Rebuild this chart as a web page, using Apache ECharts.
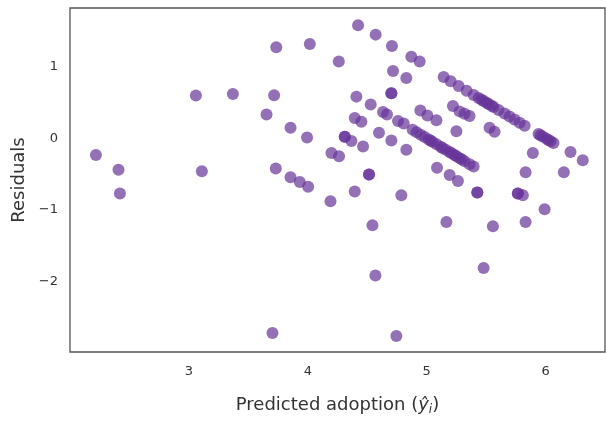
<!DOCTYPE html>
<html><head><meta charset="utf-8">
<script src="https://cdn.jsdelivr.net/npm/echarts@6/dist/echarts.min.js"></script>
<style>html,body{margin:0;padding:0;background:#fff}#c{width:606px;height:421px}</style>
</head><body><div id="c"></div>
<script>
var predicted = [
 2.218,2.408,2.420,3.059,3.109,3.370,3.735,4.017,3.653,3.717,3.731,3.855,3.994,3.855,3.933,4.003,3.703,
 4.261,4.191,4.423,4.571,4.708,4.871,4.941,4.717,4.829,4.409,4.703,4.703,4.529,4.633,4.666,4.395,4.451,
 4.759,4.807,4.947,5.006,5.082,4.599,4.703,4.829,4.311,4.311,4.367,4.465,4.199,4.263,4.515,4.515,4.395,
 4.787,4.544,4.569,4.745,5.221,5.277,5.319,5.361,5.250,5.529,5.571,5.087,5.193,5.263,5.426,5.426,5.767,
 5.767,5.809,5.992,5.166,5.557,5.832,5.479,5.893,5.832,6.154,6.210,6.313,
 4.882,4.916,4.950,4.983,5.017,5.050,5.084,5.118,5.160,5.193,5.235,5.277,5.319,5.361,5.395,
 5.034,5.134,5.210,5.252,5.294,
 5.143,5.202,5.269,5.336,5.395,5.437,5.479,5.521,5.563,5.605,5.655,5.697,5.739,5.782,5.824,5.941,5.975,
 6.008,6.042,6.067,5.462,5.504,5.546,5.958,6.025
];
var residuals = [
 -0.234,-0.440,-0.770,0.598,-0.461,0.619,1.272,1.316,0.334,0.601,-0.422,0.147,0.010,-0.543,-0.609,-0.678,-2.719,
 1.073,-0.880,1.578,1.448,1.289,1.138,1.073,0.939,0.843,0.582,0.629,0.629,0.472,0.367,0.334,0.285,0.230,
 0.243,0.206,0.389,0.320,0.252,0.078,-0.032,-0.161,0.023,0.023,-0.037,-0.114,-0.206,-0.252,-0.505,-0.505,-0.743,
 -0.794,-1.215,-1.916,-2.761,0.450,0.376,0.344,0.312,0.100,0.147,0.092,-0.413,-0.513,-0.596,-0.757,-0.757,-0.770,
 -0.770,-0.794,-0.990,-1.169,-1.228,-1.169,-1.812,-0.206,-0.475,-0.475,-0.193,-0.307,
 0.118,0.084,0.050,0.017,-0.017,-0.050,-0.084,-0.118,-0.160,-0.193,-0.235,-0.277,-0.319,-0.361,-0.395,
 -0.034,-0.134,-0.210,-0.252,-0.294,
 0.857,0.798,0.731,0.664,0.605,0.563,0.521,0.479,0.437,0.395,0.345,0.303,0.261,0.218,0.176,0.059,0.025,
 -0.008,-0.042,-0.067,0.538,0.496,0.454,0.042,-0.025
];
var xTicks = [3,4,5,6];
var yTicks = [-2,-1,0,1];

var data = predicted.map(function(x,i){return [x, residuals[i]];});
function fmt(v){ return v < 0 ? '\u2212' + (-v) : String(v); }
var chart = echarts.init(document.getElementById('c'), null, {renderer:'canvas'});
chart.setOption({
  animation:false,
  backgroundColor:'#fff',
  grid:{left:70,right:1,top:8,bottom:64,show:true,borderColor:'#555',borderWidth:1.3,containLabel:false},
  xAxis:{type:'value',min:2.0,max:6.5,
    name:'Predicted adoption ({y|ŷ}{s|i})',nameLocation:'middle',nameGap:42,
    nameTextStyle:{fontFamily:'DejaVu Sans',fontSize:18,color:'#333',
      rich:{y:{fontFamily:'DejaVu Sans',fontSize:18,fontStyle:'italic',color:'#333'},
            s:{fontFamily:'DejaVu Sans',fontSize:12,fontStyle:'italic',color:'#333',padding:[10,0,0,0]}}},
    axisLine:{show:false},axisTick:{show:false},splitLine:{show:false},
    axisLabel:{customValues:xTicks,formatter:fmt,margin:13,fontFamily:'DejaVu Sans',fontSize:13,color:'#333'}},
  yAxis:{type:'value',min:-2.985,max:1.82,
    name:'Residuals',nameLocation:'middle',nameGap:42,
    nameTextStyle:{fontFamily:'DejaVu Sans',fontSize:18,color:'#333'},
    axisLine:{show:false},axisTick:{show:false},splitLine:{show:false},
    axisLabel:{customValues:yTicks,formatter:fmt,margin:12,fontFamily:'DejaVu Sans',fontSize:13,color:'#333'}},
  series:[{type:'scatter',data:data,symbolSize:12,
    itemStyle:{color:'#663399',opacity:0.7}}]
});
</script></body></html>
